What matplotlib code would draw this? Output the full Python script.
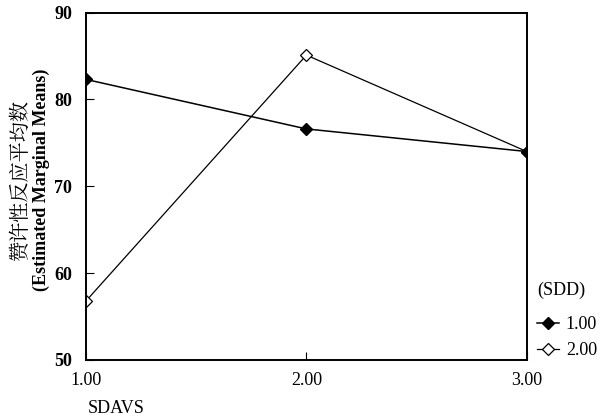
import matplotlib.pyplot as plt

plt.rcParams['font.family'] = ['Liberation Serif', 'Noto Sans CJK SC']

# data
x_levels = [1, 2, 3]
x_labels = ['1.00', '2.00', '3.00']
y_ticks = [50, 60, 70, 80, 90]
sdd_1 = [82.3, 76.6, 74.0]
sdd_2 = [56.8, 85.1, 74.0]
series_names = ['1.00', '2.00']

fig = plt.figure(figsize=(6.02, 4.19), dpi=100)
ax = fig.add_axes([0.143, 0.141, 0.732, 0.829])

ax.plot(x_levels, sdd_2, color='black', lw=0.9, marker='D', ms=6,
        mfc='white', mec='black', mew=0.9, label=series_names[1], zorder=2)
ax.plot(x_levels, sdd_1, color='black', lw=1.1, marker='D', ms=6,
        mfc='black', mec='black', label=series_names[0], zorder=3)

ax.set_xlim(1, 3)
ax.set_ylim(50, 90)
ax.set_xticks(x_levels)
ax.set_xticklabels(x_labels, fontsize=13)
ax.set_yticks(y_ticks)
ax.set_yticklabels([str(v) for v in y_ticks], fontsize=13, fontweight='bold')
ax.tick_params(direction='in', length=6, width=0.8)
ax.tick_params(axis='x', pad=9)
ax.tick_params(axis='y', pad=10)
for s in ax.spines.values():
    s.set_linewidth(1.4)

# two-line y label: chinese regular, english bold
fig.text(0.033, 0.570, '赞许性反应平均数', rotation=90, fontsize=14.5,
         family=['Noto Serif CJK SC', 'Noto Sans CJK SC'], ha='center', va='center')
fig.text(0.068, 0.570, '(Estimated Marginal Means)', rotation=90, fontsize=13,
         fontweight='bold', ha='center', va='center')
fig.text(0.145, 0.025, 'SDAVS', fontsize=13, ha='left', va='center')

handles, labels = ax.get_legend_handles_labels()
leg = fig.legend(handles[::-1], labels[::-1], title='(SDD)', loc='upper left',
                 bbox_to_anchor=(0.892, 0.327), frameon=False, fontsize=13,
                 title_fontsize=13, handlelength=1.2, handletextpad=0.4,
                 labelspacing=0.5, borderaxespad=0, borderpad=0)
leg._legend_box.align = 'left'
leg._legend_box.sep = 12

fig.savefig('out.png', dpi=100)
